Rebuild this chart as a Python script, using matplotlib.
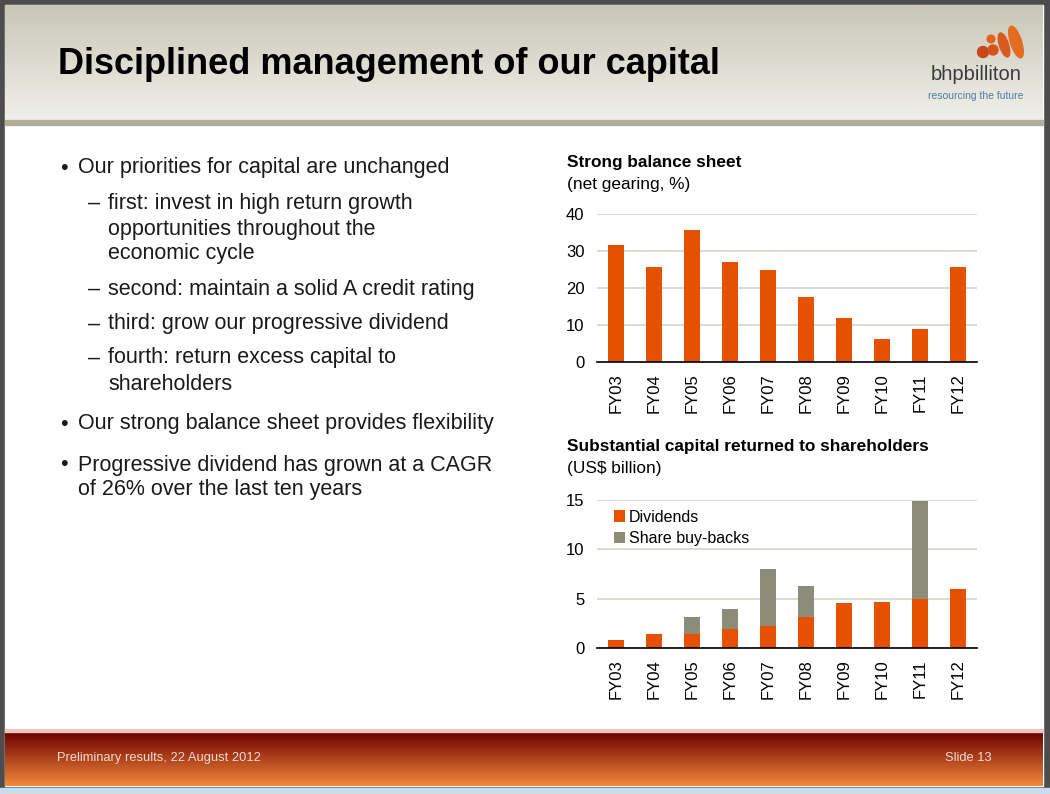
import matplotlib.pyplot as plt
import numpy as np
from matplotlib.patches import Rectangle, Ellipse, Circle

plt.rcParams['font.family'] = ['Liberation Sans', 'DejaVu Sans']

# data
years = ['FY03', 'FY04', 'FY05', 'FY06', 'FY07', 'FY08', 'FY09', 'FY10', 'FY11', 'FY12']
gearing = [31.7, 25.6, 35.7, 27.1, 24.9, 17.6, 11.9, 6.2, 9.0, 25.8]
dividends = [0.8, 1.45, 1.38, 1.92, 2.19, 3.1, 4.58, 4.62, 4.99, 5.93]
buybacks = [0, 0, 1.75, 2.02, 5.8, 3.17, 0, 0, 9.94, 0]

ORANGE = '#e65100'
GREY = '#8c8c7a'
GRID = '#d9d9d0'
W, H = 1050, 794

fig = plt.figure(figsize=(10.5, 7.94), dpi=100)
bg = fig.add_axes([0, 0, 1, 1])
bg.set_xlim(0, W)
bg.set_ylim(H, 0)
bg.axis('off')

# frame + body
bg.add_patch(Rectangle((0, 0), W, H, color='#4d4d4d', zorder=0))
bg.add_patch(Rectangle((0, 788), W, 6, color='#c9dcee', zorder=0.5))
bg.add_patch(Rectangle((5, 5), 1038, 781, color='white', zorder=1))


def vgrad(x0, x1, y0, y1, c0, c1):
    c0 = np.array(plt.matplotlib.colors.to_rgb(c0))
    c1 = np.array(plt.matplotlib.colors.to_rgb(c1))
    t = np.linspace(0, 1, 64)[:, None]
    img = (c0 * (1 - t) + c1 * t)[:, None, :]
    bg.imshow(img, extent=(x0, x1, y1, y0), aspect='auto', zorder=2)


# header
vgrad(5, 1043, 5, 120, '#c9c7b6', '#f0f0eb')
bg.add_patch(Rectangle((5, 120), 1038, 5, color='#b3ae9c', zorder=3))
# footer
bg.add_patch(Rectangle((5, 729), 1038, 3, color='#e8c8c0', zorder=3))
vgrad(5, 1043, 732, 786, '#6e0000', '#f2883a')
bg.set_xlim(0, W)
bg.set_ylim(H, 0)

bg.text(58, 64, 'Disciplined management of our capital', fontsize=26,
        fontweight='bold', color='black', va='center', zorder=5)

# logo
bg.add_patch(Circle((983, 52), 5.5, color='#c8461a', zorder=5))
bg.add_patch(Circle((991, 39), 3.8, color='#e2621f', zorder=5))
bg.add_patch(Circle((993, 50), 5, color='#d4521c', zorder=5))
bg.add_patch(Ellipse((1004, 45), 9, 25, angle=-18, color='#d95a1d', zorder=5))
bg.add_patch(Ellipse((1016, 42), 11, 33, angle=-18, color='#e46c20', zorder=5))
bg.text(976, 75, 'bhpbilliton', fontsize=14.5, color='#3a3a3a',
        ha='center', va='center', zorder=5)
bg.text(976, 96, 'resourcing the future', fontsize=7.5, color='#4f7ca5',
        ha='center', va='center', zorder=5)

# bullets
txt = '#1a1a1a'
lines = [
    (60, 78, 168, '•', 'Our priorities for capital are unchanged'),
    (88, 108, 203, '–', 'first: invest in high return growth'),
    (None, 108, 229, '', 'opportunities throughout the'),
    (None, 108, 254, '', 'economic cycle'),
    (88, 108, 289, '–', 'second: maintain a solid A credit rating'),
    (88, 108, 324, '–', 'third: grow our progressive dividend'),
    (88, 108, 358, '–', 'fourth: return excess capital to'),
    (None, 108, 384, '', 'shareholders'),
    (60, 78, 424, '•', 'Our strong balance sheet provides flexibility'),
    (60, 78, 465, '•', 'Progressive dividend has grown at a CAGR'),
    (None, 78, 490, '', 'of 26% over the last ten years'),
]
for bx, tx, y, mark, s in lines:
    if bx is not None:
        bg.text(bx, y, mark, fontsize=15.5, color=txt, va='center', zorder=5)
    bg.text(tx, y, s, fontsize=15.5, color=txt, va='center', zorder=5)

# footer text
bg.text(57, 758, 'Preliminary results, 22 August 2012', fontsize=9.3,
        color='#f3dcd0', va='center', zorder=5)
bg.text(992, 758, 'Slide 13', fontsize=9.3, color='#f3dcd0', va='center',
        ha='right', zorder=5)

# chart titles
bg.text(567, 163, 'Strong balance sheet', fontsize=12.4, fontweight='bold',
        color='black', va='center', zorder=5)
bg.text(567, 185, '(net gearing, %)', fontsize=12.4, color='black',
        va='center', zorder=5)
bg.text(567, 446, 'Substantial capital returned to shareholders', fontsize=12.4,
        fontweight='bold', color='black', va='center', zorder=5)
bg.text(567, 468, '(US$ billion)', fontsize=12.4, color='black',
        va='center', zorder=5)

x = np.arange(len(years))


def style(ax, top, ticks):
    ax.set_xlim(-0.5, len(years) - 0.5)
    ax.set_ylim(0, top)
    ax.set_yticks(ticks)
    ax.set_xticks(x)
    ax.set_xticklabels(years, rotation=90)
    ax.tick_params(axis='both', length=0, labelsize=12, colors='black')
    ax.tick_params(axis='x', pad=8)
    ax.tick_params(axis='y', pad=9)
    for s in ['top', 'right', 'left']:
        ax.spines[s].set_visible(False)
    ax.spines['bottom'].set_color('black')
    ax.spines['bottom'].set_linewidth(1.2)
    ax.grid(axis='y', color=GRID, linewidth=1.3)
    ax.set_axisbelow(True)
    ax.patch.set_alpha(0)


ax1 = fig.add_axes([597 / W, 1 - 362 / H, 380 / W, 148 / H])
ax1.bar(x, gearing, width=0.43, color=ORANGE)
style(ax1, 40, [0, 10, 20, 30, 40])

ax2 = fig.add_axes([597 / W, 1 - 648 / H, 380 / W, 148 / H])
ax2.bar(x, dividends, width=0.43, color=ORANGE, label='Dividends')
ax2.bar(x, buybacks, width=0.43, bottom=dividends, color=GREY,
        label='Share buy-backs')
style(ax2, 15, [0, 5, 10, 15])
ax2.legend(loc='upper left', bbox_to_anchor=(0.02, 1.0), frameon=False,
           fontsize=11.5, handlelength=0.7, handleheight=0.7,
           handletextpad=0.2, labelspacing=0.4, borderaxespad=0.2)

fig.savefig('out.png', dpi=100)
